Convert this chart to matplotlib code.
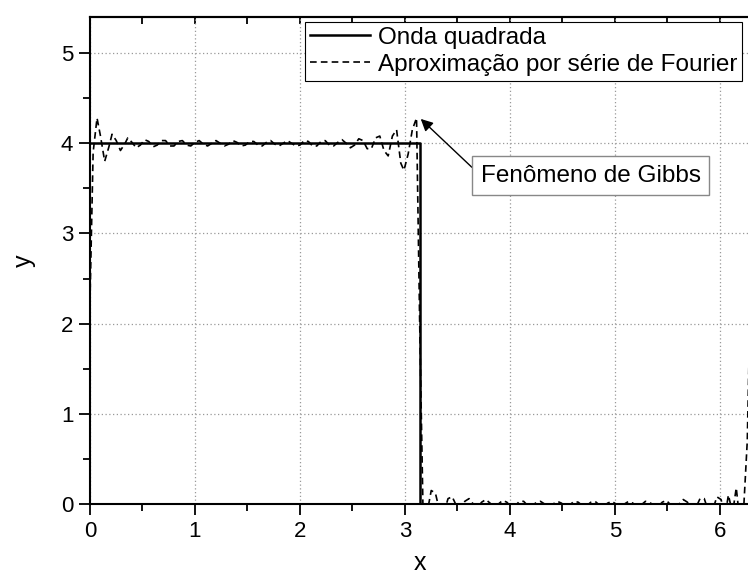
import numpy as np
import matplotlib.pyplot as plt
from matplotlib.ticker import MultipleLocator

plt.rcParams['font.family'] = ['Liberation Sans', 'DejaVu Sans']

# onda quadrada: 4 em (0, pi), 0 em (pi, 2pi)
x_quad = [0.0, np.pi, np.pi, 2 * np.pi]
y_quad = [4.0, 4.0, 0.0, 0.0]

# aproximacao por serie de Fourier (pontos amostrados)
x_four = [0.00, 0.03, 0.067, 0.10, 0.14, 0.18, 0.21, 0.25, 0.29, 0.33, 0.36,
          0.40, 0.44, 0.48, 0.52, 0.56, 0.60, 0.64, 0.68, 0.72, 0.76, 0.80,
          0.84, 0.88, 0.92, 0.96, 1.00, 1.04, 1.08, 1.12, 1.16, 1.20, 1.24,
          1.28, 1.32, 1.36, 1.40, 1.44, 1.48, 1.52, 1.56, 1.60, 1.64, 1.68,
          1.72, 1.76, 1.80, 1.84, 1.88, 1.92, 1.96, 2.00, 2.04, 2.08, 2.12,
          2.16, 2.20, 2.24, 2.28, 2.32, 2.36, 2.40, 2.44, 2.48, 2.52, 2.56,
          2.60, 2.64, 2.68, 2.72, 2.76, 2.80, 2.84, 2.88, 2.92, 2.96, 2.99,
          3.03, 3.07, 3.11, 3.14, 3.175, 3.21, 3.25, 3.29, 3.33, 3.37, 3.41,
          3.45, 3.49, 3.53, 3.57, 3.61, 3.65, 3.69, 3.73, 3.77, 3.81, 3.85,
          3.89, 3.93, 3.97, 4.01, 4.05, 4.09, 4.13, 4.17, 4.21, 4.25, 4.29,
          4.33, 4.37, 4.41, 4.45, 4.49, 4.53, 4.57, 4.61, 4.65, 4.69, 4.73,
          4.77, 4.81, 4.85, 4.89, 4.93, 4.97, 5.01, 5.05, 5.09, 5.13, 5.17,
          5.21, 5.25, 5.29, 5.33, 5.37, 5.41, 5.45, 5.49, 5.53, 5.57, 5.61,
          5.65, 5.69, 5.73, 5.77, 5.81, 5.85, 5.89, 5.93, 5.97, 6.01, 6.05,
          6.08, 6.12, 6.155, 6.19, 6.215, 6.26, 6.283]
y_four = [2.25, 3.90, 4.28, 4.08, 3.80, 3.96, 4.10, 4.03, 3.92, 3.99, 4.06,
          4.01, 3.95, 3.98, 4.04, 4.02, 3.96, 3.98, 4.03, 4.03, 3.97, 3.97,
          4.02, 4.03, 3.98, 3.97, 4.01, 4.03, 3.99, 3.97, 4.00, 4.03, 4.00,
          3.97, 3.99, 4.03, 4.01, 3.97, 3.98, 4.02, 4.02, 3.98, 3.97, 4.01,
          4.03, 3.99, 3.97, 4.00, 4.03, 4.00, 3.97, 3.98, 4.03, 4.02, 3.97,
          3.97, 4.02, 4.03, 3.98, 3.97, 4.01, 4.04, 4.00, 3.95, 3.98, 4.05,
          4.03, 3.94, 3.94, 4.06, 4.08, 3.92, 3.86, 4.08, 4.15, 3.78, 3.70,
          3.88, 4.15, 4.28, 2.00, -0.28, -0.10, 0.15, 0.12, -0.08, -0.10, 0.06,
          0.08, -0.02, -0.06, 0.03, 0.06, 0.00, -0.04, 0.02, 0.05, 0.01, -0.03,
          0.00, 0.04, 0.02, -0.03, -0.02, 0.03, 0.03, -0.02, -0.03, 0.02, 0.03,
          0.00, -0.03, 0.00, 0.03, 0.01, -0.03, -0.01, 0.03, 0.02, -0.02, -0.02,
          0.02, 0.03, -0.01, -0.03, 0.01, 0.03, 0.00, -0.03, 0.00, 0.03, 0.01,
          -0.03, -0.01, 0.03, 0.02, -0.02, -0.03, 0.02, 0.04, -0.01, -0.05, 0.00,
          0.05, 0.02, -0.06, -0.04, 0.06, 0.06, -0.08, -0.07, 0.08, 0.05, -0.12,
          0.10, -0.10, 0.18, -0.20, -0.28, 0.70, 2.00]

legend_labels = ['Onda quadrada', 'Aproximação por série de Fourier']

fig = plt.figure(figsize=(7.48, 5.79), dpi=100)
ax = fig.add_axes([0.1203, 0.1295, 0.882, 0.8411])

ax.plot(x_quad, y_quad, color='black', lw=1.8, label=legend_labels[0], zorder=3)
ax.plot(x_four, y_four, color='black', lw=1.2, dashes=(4, 2.5),
        label=legend_labels[1], zorder=4)

ax.set_xlim(0, 2 * np.pi)
ax.set_ylim(0, 5.4)
ax.xaxis.set_major_locator(MultipleLocator(1))
ax.xaxis.set_minor_locator(MultipleLocator(0.5))
ax.yaxis.set_major_locator(MultipleLocator(1))
ax.yaxis.set_minor_locator(MultipleLocator(0.5))
ax.tick_params(which='major', direction='out', length=8, width=1.3,
               labelsize=16, pad=4)
ax.tick_params(which='minor', direction='out', length=5, width=1.3)
ax.grid(True, which='major', color='#999999', ls=(0, (1, 2)), lw=0.9)

for side in ['left', 'bottom', 'top']:
    ax.spines[side].set_linewidth(1.5)
ax.spines['right'].set_visible(False)

# eixo de cima so com marcas para dentro
top = ax.secondary_xaxis('top')
top.xaxis.set_major_locator(MultipleLocator(1))
top.xaxis.set_minor_locator(MultipleLocator(0.5))
top.tick_params(which='both', direction='in', length=5, width=1.3,
                labeltop=False)
top.spines['top'].set_linewidth(1.5)

ax.set_xlabel('x', fontsize=18, labelpad=7)
ax.set_ylabel('y', fontsize=18, labelpad=18)

leg = ax.legend(loc='upper right', bbox_to_anchor=(0.992, 0.962),
                bbox_transform=fig.transFigure, fontsize=17.5, frameon=True,
                fancybox=False, framealpha=1, edgecolor='black',
                handlelength=2.5, handletextpad=0.3, borderpad=0.2,
                labelspacing=0.2, borderaxespad=0)
leg.get_frame().set_linewidth(0.8)

ax.annotate('Fenômeno de Gibbs', xy=(3.15, 4.27), xytext=(4.77, 3.64),
            fontsize=17.5, ha='center', va='center',
            bbox=dict(boxstyle='square,pad=0.35', fc='white', ec='#888888', lw=1),
            arrowprops=dict(arrowstyle='-|>', color='black', lw=1,
                            mutation_scale=18, shrinkA=0, shrinkB=0,
                            relpos=(0, 0.5)),
            zorder=6)

fig.savefig('out.png', dpi=100)
